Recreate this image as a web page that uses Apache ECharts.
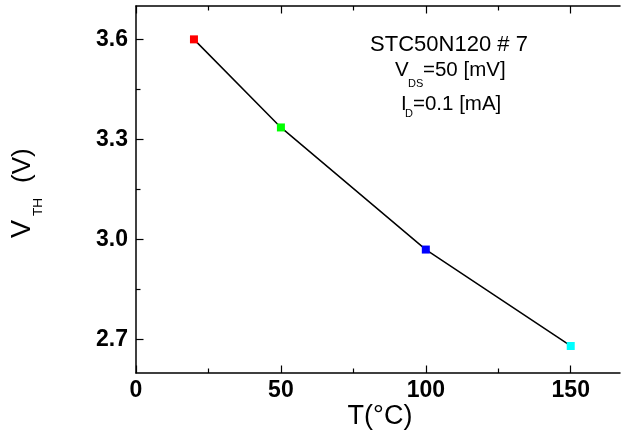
<!DOCTYPE html>
<html>
<head>
<meta charset="utf-8">
<script src="https://cdn.jsdelivr.net/npm/echarts@6/dist/echarts.min.js"></script>
<style>
  html, body { margin: 0; padding: 0; background: #fff; }
  #chart { width: 621px; height: 436px; }
</style>
</head>
<body>
<div id="chart"></div>
<script>
// Threshold voltage versus junction temperature
const temperatures = [20, 50, 100, 150];          // T (°C)
const thresholdVolts = [3.60, 3.336, 2.97, 2.681]; // V_TH (V)
const pointColors = ['#ff0000', '#00ff00', '#0000ff', '#00ffff'];

const xMajorTicks = [0, 50, 100, 150];
const xMinorTicks = [25, 75, 125];
const yMajorTicks = [2.7, 3.0, 3.3, 3.6];
const yMinorTicks = [2.85, 3.15, 3.45];

const FONT = '"Liberation Sans", Arial, Helvetica, sans-serif';
const INK = '#000';

const chart = echarts.init(document.getElementById('chart'), null, { renderer: 'canvas' });

function baseX(position, ticks, tickLen, showLine, showLabels) {
  return {
    type: 'value', position: position, min: 0, max: 167,
    axisLine: { show: showLine, onZero: false, lineStyle: { color: INK, width: 1.5 } },
    axisTick: { show: true, inside: true, length: tickLen, customValues: ticks,
                lineStyle: { color: INK, width: 1.2 } },
    axisLabel: showLabels
      ? { show: true, customValues: ticks, margin: 6, color: INK,
          fontFamily: FONT, fontWeight: 'bold', fontSize: 23 }
      : { show: false },
    splitLine: { show: false }
  };
}

function baseY(ticks, tickLen, showLine, showLabels) {
  return {
    type: 'value', position: 'left', min: 2.6, max: 3.7,
    axisLine: { show: showLine, onZero: false, lineStyle: { color: INK, width: 1.5 } },
    axisTick: { show: true, inside: true, length: tickLen, customValues: ticks,
                lineStyle: { color: INK, width: 1.2 } },
    axisLabel: showLabels
      ? { show: true, customValues: ticks, margin: 8, color: INK,
          fontFamily: FONT, fontWeight: 'bold', fontSize: 23,
          formatter: v => v.toFixed(1) }
      : { show: false },
    splitLine: { show: false }
  };
}

const textStyle = (txt, size, extra) => Object.assign({
  text: txt, fill: INK, font: size + 'px ' + FONT,
  align: 'left', verticalAlign: 'middle'
}, extra || {});

chart.setOption({
  animation: false,
  backgroundColor: '#fff',
  grid: { left: 136, right: 1, top: 6, bottom: 63, containLabel: false },
  xAxis: [
    baseX('bottom', xMajorTicks, 7.5, true, true),
    baseX('bottom', xMinorTicks, 4.5, false, false),
    baseX('top', xMajorTicks, 7.5, true, false),
    baseX('top', xMinorTicks, 4.5, false, false)
  ],
  yAxis: [
    baseY(yMajorTicks, 7.5, true, true),
    baseY(yMinorTicks, 4.5, false, false)
  ],
  series: [{
    type: 'line',
    xAxisIndex: 0, yAxisIndex: 0,
    data: temperatures.map((t, i) => [t, thresholdVolts[i]]),
    symbol: 'rect',
    symbolSize: 8,
    showSymbol: true,
    lineStyle: { color: INK, width: 1.5 },
    itemStyle: { color: p => pointColors[p.dataIndex] },
    z: 3
  }],
  graphic: [
    // y-axis title, reading bottom to top
    {
      type: 'group', x: 22.5, y: 238, rotation: Math.PI / 2,
      children: [
        { type: 'text', x: 0, y: 0, style: textStyle('V', 27) },
        { type: 'text', x: 22, y: 15.5, style: textStyle('TH', 13.5) },
        { type: 'text', x: 55, y: 0, style: textStyle('(V)', 26) }
      ]
    },
    // x-axis title
    { type: 'text', x: 380, y: 417, style: textStyle('T(°C)', 27, { align: 'center' }) },
    // device annotation, three centred lines
    { type: 'text', x: 449, y: 45, style: textStyle('STC50N120 # 7', 22, { align: 'center' }) },
    { type: 'text', x: 395, y: 70.5, style: textStyle('V', 20.5) },
    { type: 'text', x: 408, y: 83.5, style: textStyle('DS', 11) },
    { type: 'text', x: 423, y: 70.5, style: textStyle('=50 [mV]', 20.5) },
    { type: 'text', x: 401, y: 104, style: textStyle('I', 20.5) },
    { type: 'text', x: 405, y: 113.5, style: textStyle('D', 11) },
    { type: 'text', x: 413, y: 104, style: textStyle('=0.1 [mA]', 20.5) }
  ]
});
</script>
</body>
</html>
